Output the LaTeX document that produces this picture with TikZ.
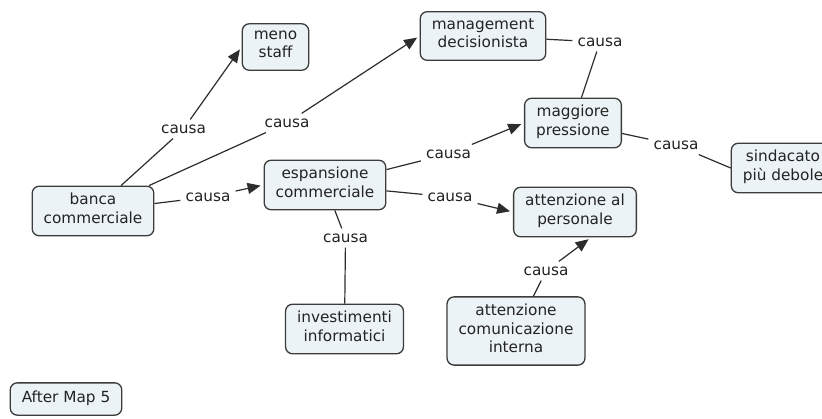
\documentclass[tikz,border=0pt]{standalone}
\usepackage{fontspec}
\setmainfont{DejaVu Sans}
\usetikzlibrary{arrows.meta}
\definecolor{boxfill}{RGB}{236,243,246}
\definecolor{boxline}{RGB}{60,60,60}
\definecolor{linkline}{RGB}{45,45,45}
\definecolor{ink}{RGB}{35,35,35}

\begin{document}
\begin{tikzpicture}[x=1pt,y=-1pt,
  concept/.style={draw=boxline, line width=1.3pt, fill=boxfill,
    rounded corners=7pt, align=center, inner xsep=11.5pt, inner ysep=6.8pt,
    font=\fontsize{15.3}{18.7}\selectfont, text=ink,
    execute at begin node=\strut, execute at end node=\strut},
  linkword/.style={inner sep=5pt, font=\fontsize{15.3}{18.7}\selectfont, text=ink},
  link/.style={draw=linkline, line width=1.2pt},
  arrowlink/.style={link, -{Triangle[length=13pt,width=11pt]}, shorten >=3pt}]

\fill[white] (0,0) rectangle (822,418);
\useasboundingbox (0,0) rectangle (822,418);

% concepts
\node[concept] (banca) at (93,211)    {banca\\commerciale};
\node[concept] (meno)  at (275.5,47)  {meno\\staff};
\node[concept] (mgmt)  at (483,36)    {management\\decisionista};
\node[concept] (esp)   at (325,185)   {espansione\\commerciale};
\node[concept] (magg)  at (573,123)   {maggiore\\pressione};
\node[concept] (sind)  at (783,168)   {sindacato\\più debole};
\node[concept] (attn)  at (575,212)   {attenzione al\\personale};
\node[concept] (inv)   at (344.5,329) {investimenti\\informatici};
\node[concept] (comm)  at (516,331)   {attenzione\\comunicazione\\interna};
\node[concept] (title) at (66,399)    {After Map 5};

% linking phrases
\node[linkword] (l1) at (183.5,129) {causa};
\node[linkword] (l2) at (287,123)   {causa};
\node[linkword] (l3) at (208,197)   {causa};
\node[linkword] (l4) at (448.5,154) {causa};
\node[linkword] (l5) at (450,197)   {causa};
\node[linkword] (l6) at (345.5,238) {causa};
\node[linkword] (l7) at (546,271)   {causa};
\node[linkword] (l8) at (600,42)    {causa};
\node[linkword] (l9) at (676,145)   {causa};

% connections
\draw[link] (banca) -- (l1);  \draw[arrowlink] (l1) -- (meno.west);
\draw[link] (banca) -- (l2);  \draw[arrowlink] (l2) -- (mgmt.west);
\draw[link] (banca) -- (l3);  \draw[arrowlink] (l3) -- (esp.west);
\draw[link] (esp) -- (l4);    \draw[arrowlink] (l4) -- (magg.west);
\draw[link] (esp) -- (l5);    \draw[arrowlink] (l5) -- (attn.west);
\draw[link] (esp) -- (l6);    \draw[link] (l6) -- (inv);
\draw[link] (comm) -- (l7);   \draw[arrowlink] (l7) -- ([xshift=16pt]attn.south);
\draw[link] (mgmt) -- (l8);   \draw[link] (l8) -- (magg);
\draw[link] (magg) -- (l9);   \draw[link] (l9) -- (sind.west);
\end{tikzpicture}
\end{document}
